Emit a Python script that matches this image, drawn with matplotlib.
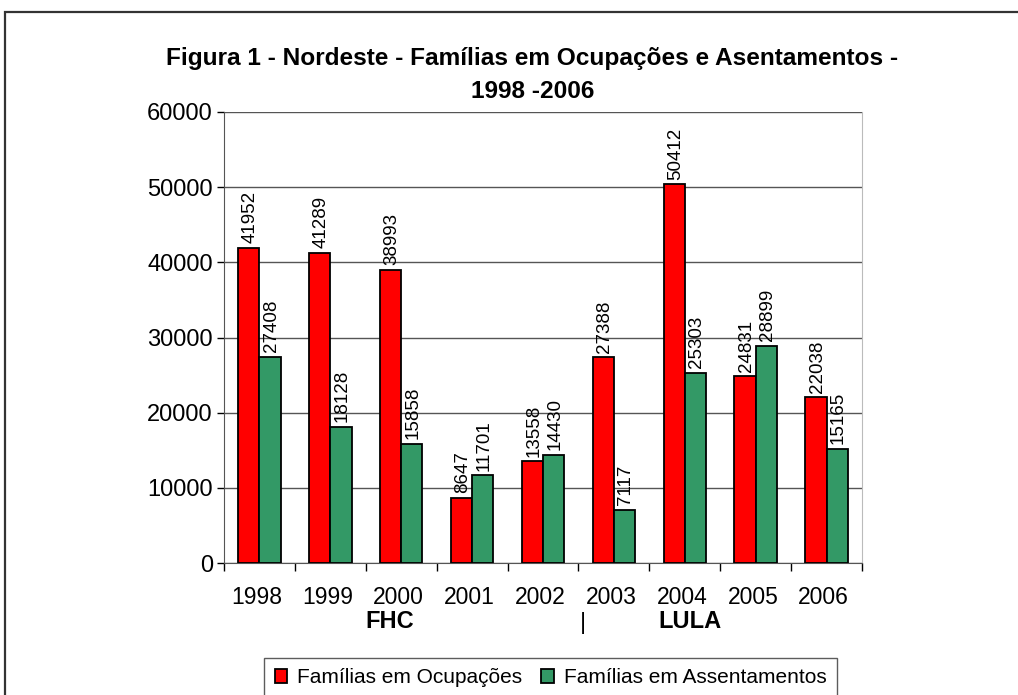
import numpy as np
import matplotlib
matplotlib.use("Agg")
import matplotlib.pyplot as plt
from matplotlib.patches import Rectangle

plt.rcParams['font.family'] = ['Liberation Sans', 'DejaVu Sans']

anos = ['1998', '1999', '2000', '2001', '2002', '2003', '2004', '2005', '2006']
ocupacoes = [41952, 41289, 38993, 8647, 13558, 27388, 50412, 24831, 22038]
assentamentos = [27408, 18128, 15858, 11701, 14430, 7117, 25303, 28899, 15165]

vermelho = '#ff0000'
verde = '#339966'

fig = plt.figure(figsize=(10.18, 6.95), dpi=100)
ax = fig.add_axes([224/1018, 1 - 563/695, (862-224)/1018, (563-112)/695])

# moldura da figura (cortada a direita e embaixo)
fig.patches.append(Rectangle((5/1018, -0.2), 1.2, 0.2 + (695-12)/695,
                             transform=fig.transFigure, fill=False,
                             edgecolor='#333333', lw=1.6))

x = np.arange(len(anos))
w = 0.3
b1 = ax.bar(x - w/2, ocupacoes, w, color=vermelho, edgecolor='black', lw=1.3,
            label='Famílias em Ocupações', zorder=3)
b2 = ax.bar(x + w/2, assentamentos, w, color=verde, edgecolor='black', lw=1.3,
            label='Famílias em Assentamentos', zorder=3)

for bars, vals in [(b1, ocupacoes), (b2, assentamentos)]:
    for r, v in zip(bars, vals):
        ax.text(r.get_x() + r.get_width()/2 + 0.02, v + 600, str(v), rotation=90,
                ha='center', va='bottom', fontsize=13.5)

ax.set_xlim(-0.5, len(anos) - 0.5)
ax.set_ylim(0, 60000)
ax.set_yticks(np.arange(0, 60001, 10000))
ax.tick_params(axis='y', labelsize=17, direction='out', length=5, width=1, pad=3)
ax.set_xticks(np.arange(-0.5, len(anos), 1))
ax.set_xticklabels([])
ax.tick_params(axis='x', direction='out', length=6, width=1)
ax.grid(axis='y', color='#555555', lw=1, zorder=0)
ax.spines['top'].set_visible(False)
ax.spines['right'].set_color('#bbbbbb')
ax.spines['left'].set_color('#555555')
ax.spines['bottom'].set_color('#555555')

tr = ax.get_xaxis_transform()
for i, a in enumerate(anos):
    ax.text(i - 0.04, -0.0754, a, transform=tr, ha='center', va='center',
            fontsize=16.5)
ax.text(1.84, -0.13, 'FHC', transform=tr, ha='center', va='center',
        fontsize=17, fontweight='bold')
ax.text(4.56, -0.132, '|', transform=tr, ha='center', va='center', fontsize=17)
ax.text(6.07, -0.13, 'LULA', transform=tr, ha='center', va='center',
        fontsize=17, fontweight='bold')

fig.text(0.523, 1 - 58/695, 'Figura 1 - Nordeste - Famílias em Ocupações e Asentamentos -',
         ha='center', va='center', fontsize=17.6, fontweight='bold')
fig.text(0.523, 1 - 91/695, '1998 -2006', ha='center', va='center',
         fontsize=17.6, fontweight='bold')

leg = fig.legend(loc='upper center', bbox_to_anchor=(0.541, 1 - 658/695), ncol=2,
                 fontsize=15, frameon=True, fancybox=False, handlelength=0.6,
                 handleheight=0.6, handletextpad=0.5, columnspacing=0.9,
                 borderpad=0.5, borderaxespad=0)
leg.get_frame().set_edgecolor('#333333')
leg.get_frame().set_linewidth(1)

fig.savefig('out.png', dpi=100)
